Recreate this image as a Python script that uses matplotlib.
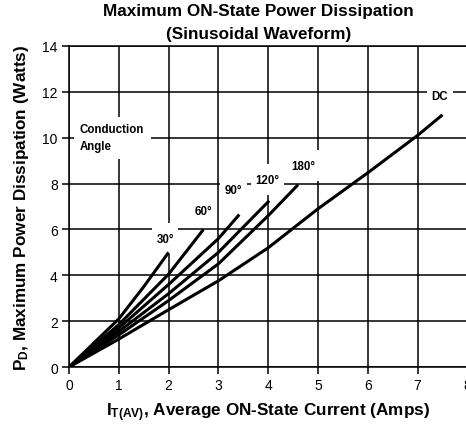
import matplotlib
matplotlib.use("Agg")
import matplotlib.pyplot as plt
from matplotlib.path import Path

plt.rcParams["font.family"] = ["Liberation Sans", "DejaVu Sans"]
plt.rcParams["mathtext.fontset"] = "custom"
plt.rcParams["mathtext.rm"] = "Liberation Sans"
plt.rcParams["mathtext.bf"] = "Liberation Sans:bold"

# curves (current in A, power in W)
x_30 = [0, 1, 1.5, 2.0]
y_30 = [0, 2.1, 3.5, 5.0]
x_60 = [0, 1, 2, 2.7]
y_60 = [0, 1.85, 4.05, 6.0]
x_90 = [0, 1, 2, 3, 3.42]
y_90 = [0, 1.7, 3.6, 5.6, 6.65]
x_120 = [0, 1, 2, 3, 4.02]
y_120 = [0, 1.55, 3.2, 5.0, 7.25]
x_180 = [0, 1, 2, 3, 4, 4.6]
y_180 = [0, 1.4, 2.9, 4.5, 6.6, 7.95]
x_dc = [0, 1, 2, 3, 4, 5, 6, 7, 7.5]
y_dc = [0, 1.22, 2.5, 3.76, 5.2, 6.9, 8.47, 10.1, 11.0]

curves = [(x_30, y_30), (x_60, y_60), (x_90, y_90),
          (x_120, y_120), (x_180, y_180), (x_dc, y_dc)]

labels = ["30°", "60°", "90°", "120°", "180°", "DC"]
label_x = [1.93, 2.70, 3.30, 3.98, 4.71, 7.45]
label_y = [5.6, 6.8, 7.7, 8.17, 8.78, 11.8]


def make_box(padx, pady):
    # white box, wider pad top/bottom than left/right
    def box(x0, y0, width, height, mutation_size):
        px = padx * mutation_size
        py = pady * mutation_size
        verts = [(x0 - px, y0 - py), (x0 + width + px, y0 - py),
                 (x0 + width + px, y0 + height + py),
                 (x0 - px, y0 + height + py), (x0 - px, y0 - py)]
        return Path(verts, closed=True)
    return box


def main():
    fig = plt.figure(figsize=(4.66, 4.27), dpi=100)
    ax = fig.add_axes([0.148, 0.138, 0.855, 0.752])

    for xs, ys in curves:
        ax.plot(xs, ys, color="black", lw=2.2, zorder=4,
                solid_capstyle="butt")

    ax.set_xlim(0, 8)
    ax.set_ylim(0, 14)
    ax.set_xticks(range(0, 9))
    ax.set_yticks(range(0, 15, 2))
    ax.grid(True, color="black", lw=1.1)
    ax.set_axisbelow(True)
    for s in ax.spines.values():
        s.set_linewidth(1.1)
    ax.tick_params(direction="out", length=5, width=1.1, labelsize=10,
                   pad=3)

    for t, lx, ly in zip(labels, label_x, label_y):
        ax.text(lx, ly, t, fontsize=8.3, fontweight="bold", ha="center",
                va="center", zorder=3,
                bbox=dict(facecolor="white", edgecolor="none",
                          boxstyle=make_box(0.4, 0.8)))
    ax.text(0.22, 10.0, "Conduction\nAngle", fontsize=8.3,
            fontweight="bold", ha="left", va="center", linespacing=1.5,
            zorder=3,
            bbox=dict(facecolor="white", edgecolor="none",
                      boxstyle=make_box(0.55, 0.6)))

    fig.text(0.555, 0.972, "Maximum ON-State Power Dissipation",
             fontsize=12.3, fontweight="bold", ha="center", va="center")
    fig.text(0.555, 0.920, "(Sinusoidal Waveform)",
             fontsize=12.3, fontweight="bold", ha="center", va="center")

    ax.set_xlabel(r"$\mathbf{I_{T(AV)}}$, Average ON-State Current (Amps)",
                  fontsize=12.3, fontweight="bold", labelpad=6)
    ax.set_ylabel(r"$\mathbf{P_D}$, Maximum Power Dissipation (Watts)",
                  fontsize=12.3, fontweight="bold", labelpad=8)

    fig.savefig("out.png", dpi=100)


if __name__ == "__main__":
    main()
